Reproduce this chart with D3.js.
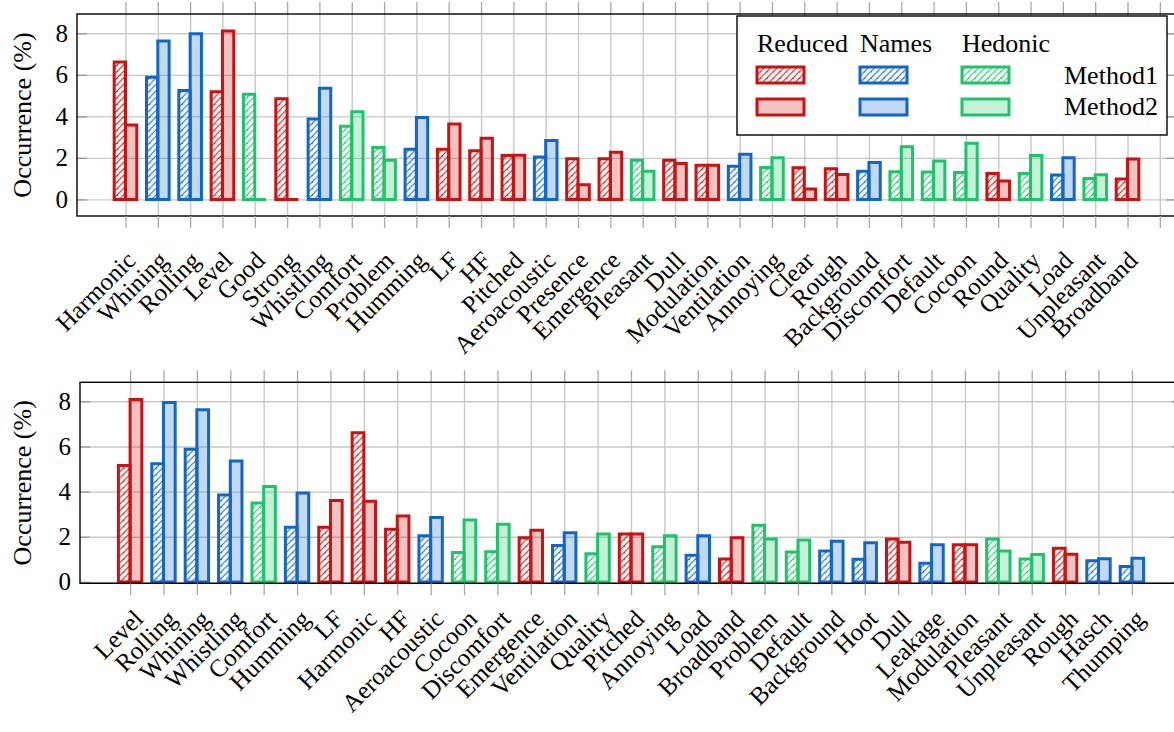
<!DOCTYPE html>
<html>
<head>
<meta charset="utf-8">
<script src="https://cdn.jsdelivr.net/npm/d3@7"></script>
<style>
  html, body { margin: 0; padding: 0; background: #fff; }
  svg { display: block; font-family: "Liberation Serif", "DejaVu Serif", serif; }
</style>
</head>
<body>
<svg id="chart" width="1174" height="732"></svg>
<script>
// ---- data ----
const topCategories = ["Harmonic", "Whining", "Rolling", "Level", "Good", "Strong", "Whistling", "Comfort",
  "Problem", "Humming", "LF", "HF", "Pitched", "Aeroacoustic", "Presence", "Emergence", "Pleasant", "Dull",
  "Modulation", "Ventilation", "Annoying", "Clear", "Rough", "Background", "Discomfort", "Default", "Cocoon",
  "Round", "Quality", "Load", "Unpleasant", "Broadband"];
const topGroups = ["R", "N", "N", "R", "H", "R", "N", "H", "H", "N", "R", "R", "R", "N", "R", "R", "H", "R",
  "R", "N", "H", "R", "R", "N", "H", "H", "H", "R", "H", "N", "H", "R"];
const topMethod1 = [6.62, 5.88, 5.25, 5.19, 5.06, 4.85, 3.87, 3.52, 2.50, 2.42, 2.42, 2.34, 2.12, 2.04, 1.96,
  1.96, 1.88, 1.88, 1.64, 1.60, 1.54, 1.52, 1.47, 1.36, 1.33, 1.32, 1.30, 1.25, 1.25, 1.17, 1.01, 0.98];
const topMethod2 = [3.58, 7.63, 7.98, 8.11, 0, 0, 5.35, 4.22, 1.89, 3.95, 3.63, 2.94, 2.13, 2.84, 0.70,
  2.27, 1.35, 1.73, 1.64, 2.17, 2.00, 0.50, 1.20, 1.78, 2.54, 1.85, 2.71, 0.88, 2.12, 2.00, 1.19, 1.94];

const bottomCategories = ["Level", "Rolling", "Whining", "Whistling", "Comfort", "Humming", "LF", "Harmonic",
  "HF", "Aeroacoustic", "Cocoon", "Discomfort", "Emergence", "Ventilation", "Quality", "Pitched", "Annoying",
  "Load", "Broadband", "Problem", "Default", "Background", "Hoot", "Dull", "Leakage", "Modulation", "Pleasant",
  "Unpleasant", "Rough", "Hasch", "Thumping"];
const bottomGroups = ["R", "N", "N", "N", "H", "N", "R", "R", "R", "N", "H", "H", "R", "N", "H", "R", "H",
  "N", "R", "H", "H", "N", "N", "R", "N", "R", "H", "H", "R", "N", "N"];
const bottomMethod1 = [5.16, 5.23, 5.88, 3.85, 3.50, 2.42, 2.42, 6.61, 2.33, 2.04, 1.30, 1.34, 1.96, 1.61,
  1.25, 2.12, 1.56, 1.18, 1.02, 2.51, 1.33, 1.37, 1.00, 1.90, 0.83, 1.65, 1.90, 1.02, 1.49, 0.94, 0.68];
const bottomMethod2 = [8.08, 7.95, 7.63, 5.35, 4.23, 3.94, 3.61, 3.57, 2.92, 2.85, 2.74, 2.55, 2.29, 2.18,
  2.12, 2.12, 2.04, 2.04, 1.96, 1.90, 1.86, 1.80, 1.74, 1.76, 1.65, 1.65, 1.37, 1.21, 1.23, 1.03, 1.05];

const yTicks = [0, 2, 4, 6, 8];
const groupNames = { R: "Reduced", N: "Names", H: "Hedonic" };
const methodNames = ["Method1", "Method2"];

// ---- styles ----
const colors = { R: "#cc1111", N: "#1166cc", H: "#1ec468" };
const gridColor = "#c9c9c9";
const barW = 0.35;

const svg = d3.select("#chart");
const defs = svg.append("defs");
Object.keys(colors).forEach(k => {
  const p = defs.append("pattern")
    .attr("id", "hatch" + k)
    .attr("patternUnits", "userSpaceOnUse")
    .attr("width", 6.5).attr("height", 6.5);
  p.append("path")
    .attr("d", "M-1,1.5 l2.5,-2.5 M0,6.5 l6.5,-6.5 M5,8 l2.5,-2.5")
    .attr("stroke", colors[k]).attr("stroke-width", 1.1);
});

function barPath(x0, x1, y0, y1) {
  return `M${x0},${y0}V${y1}H${x1}V${y0}Z`;
}

function drawPanel(cfg) {
  const g = svg.append("g");
  const x = d3.scaleLinear().domain(cfg.xDomain).range(cfg.xRange);
  const y = d3.scaleLinear().domain(cfg.yDomain).range(cfg.yRange);
  const [left, right] = cfg.xRange;
  const [bottom, top] = cfg.yRange;
  const idx = d3.range(cfg.nTicks);

  // grid
  g.append("g")
    .attr("transform", `translate(${left},0)`)
    .call(d3.axisLeft(y).tickValues(yTicks).tickSize(-(right - left)).tickFormat(""))
    .call(a => a.select(".domain").remove())
    .call(a => a.selectAll("line").attr("stroke", gridColor).attr("stroke-width", 1.4));
  g.append("g")
    .attr("transform", `translate(0,${bottom})`)
    .call(d3.axisBottom(x).tickValues(idx).tickSize(-(bottom - top)).tickFormat(""))
    .call(a => a.select(".domain").remove())
    .call(a => a.selectAll("line").attr("stroke", gridColor).attr("stroke-width", 1.4));

  // outer x ticks (top and bottom)
  g.append("g")
    .attr("transform", `translate(0,${top})`)
    .call(d3.axisTop(x).tickValues(idx).tickSize(12).tickFormat(""))
    .call(a => a.select(".domain").remove())
    .call(a => a.selectAll("line").attr("stroke", "#a8a8a8").attr("stroke-width", 1.3));

  // inner y ticks (left/right)
  g.append("g")
    .attr("transform", `translate(${left},0)`)
    .call(d3.axisRight(y).tickValues(yTicks).tickSize(10).tickFormat(""))
    .call(a => a.select(".domain").remove())
    .call(a => a.selectAll("line").attr("stroke", "#999").attr("stroke-width", 1.3));
  g.append("g")
    .attr("transform", `translate(${right},0)`)
    .call(d3.axisLeft(y).tickValues(yTicks).tickSize(10).tickFormat(""))
    .call(a => a.select(".domain").remove())
    .call(a => a.selectAll("line").attr("stroke", "#999").attr("stroke-width", 1.3));

  // bars
  const data = cfg.categories.map((c, i) => ({ i, c, grp: cfg.groups[i], m1: cfg.m1[i], m2: cfg.m2[i] }));
  const bars = g.append("g");
  bars.selectAll("path.m1").data(data).join("path")
    .attr("class", "m1")
    .attr("d", d => barPath(x(d.i - barW), x(d.i), y(0), y(d.m1)))
    .attr("fill", d => `url(#hatch${d.grp})`)
    .attr("stroke", d => colors[d.grp]).attr("stroke-width", 3)
    .attr("stroke-linejoin", "miter");
  bars.selectAll("path.m2").data(data).join("path")
    .attr("class", "m2")
    .attr("d", d => barPath(x(d.i), x(d.i + barW), y(0), y(d.m2)))
    .attr("fill", d => colors[d.grp]).attr("fill-opacity", 0.25)
    .attr("stroke", d => colors[d.grp]).attr("stroke-width", 3)
    .attr("stroke-linejoin", "miter");

  // frame
  g.append("rect")
    .attr("x", left).attr("y", top)
    .attr("width", right - left).attr("height", bottom - top)
    .attr("fill", "none").attr("stroke", "#000").attr("stroke-width", 1.4);

  // x axis labels + outer ticks
  g.append("g")
    .attr("transform", `translate(0,${bottom})`)
    .call(d3.axisBottom(x).tickValues(idx).tickSize(12)
      .tickFormat(i => cfg.categories[i] || ""))
    .call(a => a.select(".domain").remove())
    .call(a => a.selectAll("line").attr("stroke", "#a8a8a8").attr("stroke-width", 1.3))
    .call(a => a.selectAll("text")
      .attr("y", null).attr("dy", null)
      .attr("text-anchor", "end")
      .attr("transform", `translate(${cfg.labelDx},${cfg.labelDy}) rotate(-45)`)
      .attr("font-family", "Liberation Serif, DejaVu Serif, serif")
      .attr("font-size", 25).attr("fill", "#000"));

  // y axis labels
  g.append("g")
    .attr("transform", `translate(${left},0)`)
    .call(d3.axisLeft(y).tickValues(yTicks).tickSize(0).tickPadding(9))
    .call(a => a.select(".domain").remove())
    .call(a => a.selectAll("text")
      .attr("font-family", "Liberation Serif, DejaVu Serif, serif")
      .attr("font-size", 25).attr("fill", "#000"));

  g.append("text")
    .attr("transform", `translate(31,${(top + bottom) / 2}) rotate(-90)`)
    .attr("text-anchor", "middle")
    .attr("font-size", 26)
    .text("Occurrence (%)");
  return g;
}

drawPanel({
  categories: topCategories, groups: topGroups, m1: topMethod1, m2: topMethod2,
  nTicks: topCategories.length + 1,
  xDomain: [-1.5, 32.5], xRange: [77, 1176],
  yDomain: [-0.80, 8.93], yRange: [216, 14],
  labelDx: 11, labelDy: 46
});

drawPanel({
  categories: bottomCategories, groups: bottomGroups, m1: bottomMethod1, m2: bottomMethod2,
  nTicks: bottomCategories.length,
  xDomain: [-1.5, 31.5], xRange: [80, 1182],
  yDomain: [-0.06, 8.84], yRange: [583.3, 382.3],
  labelDx: 14, labelDy: 37
});

// ---- legend ----
const lg = svg.append("g");
lg.append("rect")
  .attr("x", 737).attr("y", 16).attr("width", 430).attr("height", 119)
  .attr("fill", "#fff").attr("stroke", "#000").attr("stroke-width", 1.4);
const legendCols = [["R", 757], ["N", 860], ["H", 962]];
legendCols.forEach(([k, lx]) => {
  lg.append("text").attr("x", lx).attr("y", 52).attr("font-size", 26).text(groupNames[k]);
  lg.append("path")
    .attr("d", barPath(lx, lx + 47, 83, 67))
    .attr("fill", `url(#hatch${k})`)
    .attr("stroke", colors[k]).attr("stroke-width", 3);
  lg.append("path")
    .attr("d", barPath(lx, lx + 47, 115, 99))
    .attr("fill", colors[k]).attr("fill-opacity", 0.25)
    .attr("stroke", colors[k]).attr("stroke-width", 3);
});
lg.append("text").attr("x", 1064).attr("y", 84).attr("font-size", 26).text(methodNames[0]);
lg.append("text").attr("x", 1064).attr("y", 115).attr("font-size", 26).text(methodNames[1]);
</script>
</body>
</html>
